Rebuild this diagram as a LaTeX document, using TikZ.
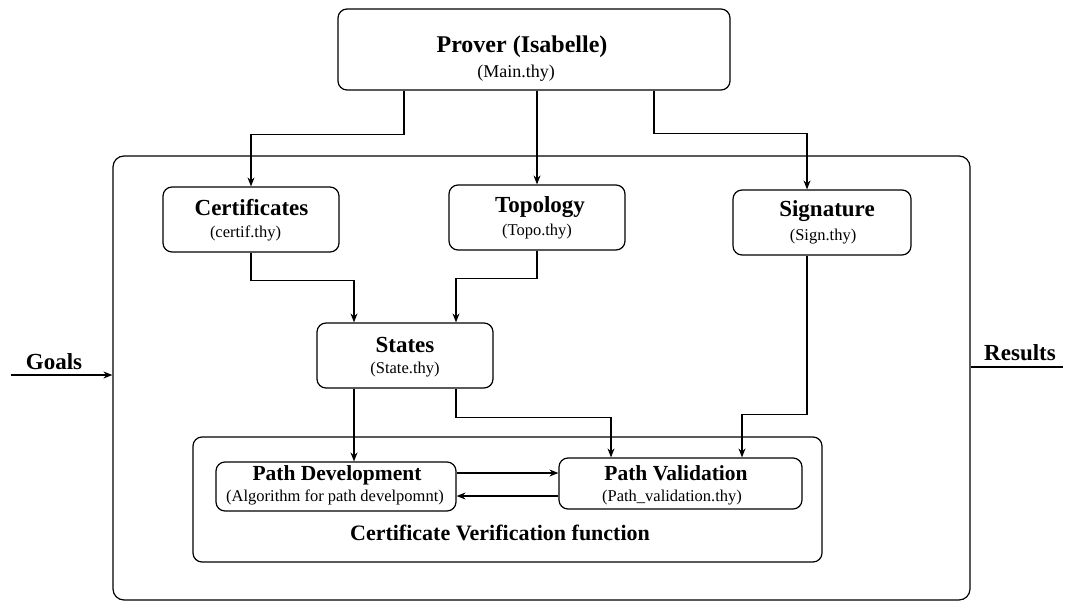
\documentclass[tikz,border=0pt]{standalone}
\usepackage{fontspec}
\setmainfont{Liberation Serif}
\usetikzlibrary{arrows.meta,calc}
\begin{document}
\begin{tikzpicture}[x=1pt,y=-1pt,
  box/.style={draw, rounded corners=9pt, line width=1.2pt, inner sep=0pt},
  ttl/.style={font=\bfseries\fontsize{23}{25}\selectfont, inner sep=0pt},
  pttl/.style={font=\bfseries\fontsize{21.5}{23}\selectfont, inner sep=0pt},
  sub/.style={font=\fontsize{16.5}{18}\selectfont, inner sep=0pt},
  arr/.style={line width=1.1pt, -{Stealth[length=9pt,width=7pt,inset=3pt]}},
  ln/.style={line width=1.1pt}]
\useasboundingbox (0,0) rectangle (1067,602);
% boxes
\node[box, minimum width=392pt, minimum height=81pt] (prover) at (534,49.5) {};
\node[box, rounded corners=11pt, minimum width=857pt, minimum height=444pt] (sys) at (541.5,378) {};
\node[box, minimum width=176pt, minimum height=65pt] (cert) at (251,219.5) {};
\node[box, minimum width=176pt, minimum height=65pt] (topo) at (537,217.5) {};
\node[box, minimum width=178pt, minimum height=65pt] (sign) at (822,222.5) {};
\node[box, minimum width=176pt, minimum height=65pt] (states) at (405,355.5) {};
\node[box, minimum width=629pt, minimum height=125pt] (cv) at (507.5,499.5) {};
\node[box, minimum width=240pt, minimum height=49pt] (pdev) at (336,486.5) {};
\node[box, minimum width=243pt, minimum height=51pt] (pval) at (680.5,483.5) {};
% texts
\node[ttl, font=\bfseries\fontsize{24}{26}\selectfont] (tprover) at (522,47) {Prover (Isabelle)};
\node[sub, font=\fontsize{18}{20}\selectfont] (sprover) at (516,73) {(Main.thy)};
\node[ttl] (tcert) at (251.5,208) {Certificates};
\node[sub] (scert) at (245.5,233) {(certif.thy)};
\node[ttl] (ttopo) at (540,207) {Topology};
\node[sub] (stopo) at (537,232) {(Topo.thy)};
\node[ttl] (tsign) at (827,211) {Signature};
\node[sub] (ssign) at (823,237) {(Sign.thy)};
\node[ttl] (tstates) at (405,345) {States};
\node[sub] (sstates) at (405,370) {(State.thy)};
\node[pttl] (tpdev) at (337,475) {Path Development};
\node[sub] (spdev) at (335,497) {(Algorithm for path develpomnt)};
\node[pttl] (tpval) at (676,473) {Path Validation};
\node[sub] (spval) at (672,498) {(Path\_validation.thy)};
\node[ttl, font=\bfseries\fontsize{22}{24}\selectfont] (tcv) at (500,533) {Certificate Verification function};
\node[ttl] (goals) at (54,362) {Goals};
\node[ttl] (results) at (1020,353) {Results};
% connectors
\draw[arr] ([xshift=-130pt]prover.south) -- ++(0,44) -| (cert.north);
\draw[arr] (topo.north |- prover.south) -- (topo.north);
\draw[arr] ([xshift=120pt]prover.south) -- ++(0,43) -| ([xshift=-15pt]sign.north);
\draw[arr] (cert.south) -- ++(0,28) -| ([xshift=-51pt]states.north);
\draw[arr] (topo.south) -- ++(0,28) -| ([xshift=51pt]states.north);
\draw[arr] ([xshift=-51pt]states.south) coordinate (s1) -- (s1 |- pdev.north);
\draw[arr] ([xshift=51pt]states.south) -- ++(0,29) -| ([xshift=-69.5pt]pval.north);
\draw[arr] ([xshift=-15pt]sign.south) -- ++(0,159) -| ([xshift=61.5pt]pval.north);
\draw[arr] ([yshift=13.5pt]pdev.east) coordinate (p1) -- (p1 -| pval.west);
\draw[arr] ([yshift=-12.5pt]pval.west) coordinate (p2) -- (p2 -| pdev.east);
\coordinate (gin) at (11,375);
\draw[arr] (gin) -- (gin -| sys.west);
\coordinate (rout) at (1063,367);
\draw[ln] (rout -| sys.east) -- (rout);
\end{tikzpicture}
\end{document}
